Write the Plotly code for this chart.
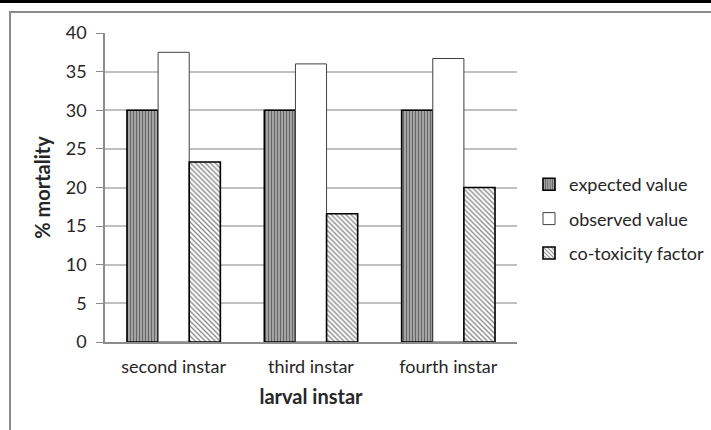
import plotly.graph_objects as go

# Mortality of larvae by instar stage
instars = ["second instar", "third instar", "fourth instar"]
expected_value = [30, 30, 30]
observed_value = [37.5, 36.0, 36.7]
cotoxicity_factor = [23.3, 16.6, 20.0]

y_ticks = [0, 5, 10, 15, 20, 25, 30, 35, 40]

FONT = "Lato"
TXT = "#262626"

fig = go.Figure()

fig.add_trace(go.Bar(
    name="expected value", x=instars, y=expected_value, legendgroup="a",
    marker=dict(color="white",
                pattern=dict(shape="|", fgcolor="#111111", bgcolor="#b8b8b8",
                             size=3, solidity=0.5, fillmode="overlay"),
                line=dict(color="black", width=1.6)),
))
fig.add_trace(go.Bar(
    name="observed value", x=instars, y=observed_value, legendgroup="b",
    marker=dict(color="white", line=dict(color="#404040", width=1)),
))
fig.add_trace(go.Bar(
    name="co-toxicity factor", x=instars, y=cotoxicity_factor, legendgroup="c",
    marker=dict(color="white",
                pattern=dict(shape="\\", fgcolor="#111111", bgcolor="white",
                             size=3.5, solidity=0.38, fillmode="overlay"),
                line=dict(color="black", width=1.6)),
))

# outer chart frame and the ruled line above it (paper coords: x 105..517 px, y 342..33 px)
def px_x(p):
    return (p - 105) / 412.0

def px_y(p):
    return (342 - p) / 309.0

shapes = [
    dict(type="path", xref="paper", yref="paper",
         path=f"M {px_x(10)},{px_y(440)} L {px_x(10)},{px_y(12)} L {px_x(720)},{px_y(12)}",
         line=dict(color="#8c8c8c", width=2)),
    dict(type="line", xref="paper", yref="paper",
         x0=px_x(0), x1=px_x(711), y0=px_y(1.5), y1=px_y(1.5),
         line=dict(color="black", width=3)),
]
for vx in [9, 83, 159, 250, 329, 433, 538, 627]:
    shapes.append(dict(type="line", xref="paper", yref="paper",
                       x0=px_x(vx), x1=px_x(vx), y0=px_y(0), y1=px_y(2),
                       line=dict(color="black", width=2)))

fig.update_layout(
    width=711, height=430,
    margin=dict(l=105, r=194, t=33, b=88, autoexpand=False),
    paper_bgcolor="white", plot_bgcolor="white",
    barmode="group", bargap=0.32, bargroupgap=0,
    font=dict(family=FONT, size=18, color=TXT),
    showlegend=True,
    legend=dict(x=px_x(529), y=px_y(219), xanchor="left", yanchor="middle",
                font=dict(family=FONT, size=18, color=TXT),
                tracegroupgap=8, itemwidth=30, bgcolor="rgba(0,0,0,0)"),
    xaxis=dict(showline=True, linecolor="#8c8c8c", linewidth=1.5, ticks="",
               showgrid=False, ticklabelstandoff=8,
               title=dict(text="<b>larval instar</b>", standoff=14,
                          font=dict(family=FONT, size=20, color=TXT))),
    yaxis=dict(range=[0, 40], tickvals=y_ticks, showline=True, linecolor="#8c8c8c",
               linewidth=1.5, ticks="outside", ticklen=7, tickcolor="#8c8c8c",
               showgrid=True, gridcolor="#c0c0c0", gridwidth=1.5, zeroline=False,
               ticklabelstandoff=6,
               title=dict(text="<b>% mortality</b>", standoff=10,
                          font=dict(family=FONT, size=20, color=TXT))),
    shapes=shapes,
)

fig.write_html("out.html")
